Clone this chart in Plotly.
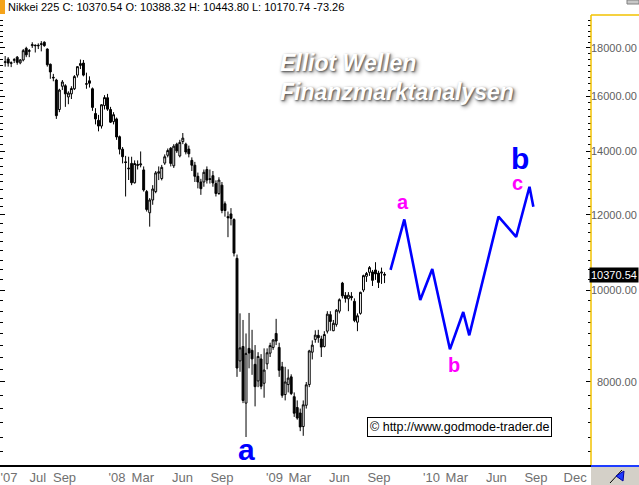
import math
import pandas as pd
import plotly.graph_objects as go

# ---------------- data ----------------
week_start = "2007-04-16"
n_weeks = 127
dates = pd.date_range(week_start, periods=n_weeks, freq="7D")

opens = [17380, 17520, 17340, 17470, 17600, 17360, 17480, 17980, 17850, 18100,
         18120, 18090, 18150, 18250, 17950, 17300, 16760, 16650, 15500, 16400,
         16420, 15980, 16100, 16300, 16850, 17250, 17350, 16480, 16620, 16300,
         15350, 15100, 14890, 15650, 15950, 15500, 15050, 15150, 14509, 14078,
         13650, 13420, 13600, 12975, 13560, 13550, 13386, 12700, 12064, 12444,
         12700, 13280, 13110, 13610, 13870, 14110, 13520, 14250, 13850, 14340,
         14250, 14080, 13700, 13540, 13180, 13000, 13000, 13400, 13080, 13200,
         12950, 12640, 12900, 12330, 11950, 12030, 11870, 10800, 8420, 8720,
         7600, 8680, 8640, 8350, 8020, 8460, 7975, 8360, 8580, 8700,
         9000, 8700, 8300, 7760, 7950, 8100, 7720, 7520, 7420, 7180,
         7560, 7950, 8600, 8870, 8960, 8880, 8720, 9050, 9420, 9060,
         9200, 9500, 10170, 9870, 9790, 9850, 9730, 9250, 9450, 10000,
         10340, 10440, 10450, 10500, 10420, 10420, 10388.32]
highs = [17650, 17600, 17420, 17560, 17650, 17520, 17950, 18050, 17950, 18250,
         18150, 18200, 18300, 18290, 17980, 17330, 16900, 16700, 16300, 16650,
         16480, 16200, 16400, 16850, 17200, 17500, 17480, 16950, 16800, 16350,
         15550, 15300, 15700, 16050, 16100, 15600, 15400, 15200, 14550, 14150,
         13850, 13822, 13822, 13700, 13700, 14000, 13500, 12750, 12500, 12900,
         13350, 13500, 13550, 13900, 14100, 14150, 14250, 14300, 14400, 14640,
         14300, 14200, 13800, 13650, 13300, 13100, 13400, 13500, 13400, 13350,
         13050, 13150, 13000, 12400, 12100, 12200, 11900, 10900, 9450, 9300,
         9000, 9460, 9080, 8750, 8600, 8560, 8680, 8680, 8800, 8880,
         9325, 8800, 8400, 8300, 8250, 8150, 7800, 7650, 7500, 7650,
         8000, 8650, 8850, 9070, 9080, 8950, 9050, 9500, 9500, 9300,
         9550, 9800, 10200, 9950, 9950, 9950, 9800, 9450, 9960, 10380,
         10450, 10600, 10500, 10700, 10480, 10560, 10443.80]
lows = [17200, 17200, 17180, 17350, 17280, 17300, 17420, 17600, 17600, 18000,
        17800, 17950, 17850, 18050, 17200, 16700, 16600, 15150, 15400, 16250,
        15600, 15700, 15900, 16250, 16750, 17100, 16800, 16300, 16350, 15450,
        14950, 14700, 14800, 15500, 15450, 15000, 14950, 14400, 13900, 13600,
        12550, 13062, 12900, 12950, 13400, 13470, 12700, 12100, 11664, 12300,
        12650, 13060, 13050, 13550, 13800, 13500, 13450, 13950, 13800, 14250,
        13900, 13800, 13350, 13000, 12800, 12600, 12850, 12950, 12950, 12850,
        12550, 12600, 12050, 11950, 11370, 11700, 10850, 8100, 8200, 7600,
        7000, 8270, 8140, 7540, 7900, 7860, 7700, 8250, 8500, 8650,
        8750, 8100, 7700, 7650, 7800, 7750, 7350, 7300, 7100, 7020,
        7500, 7900, 8450, 8800, 8800, 8500, 8700, 9000, 9060, 9050,
        9150, 9450, 9800, 9700, 9500, 9750, 9250, 9050, 9420, 9950,
        10200, 10350, 10100, 10250, 10050, 10150, 10170.74]
closes = [17400, 17350, 17360, 17490, 17380, 17480, 17880, 17700, 17880, 18140,
          18100, 18110, 18180, 18100, 17280, 16980, 16740, 15270, 16250, 16570,
          16100, 16130, 16310, 16790, 17200, 17330, 16850, 16500, 16520, 15580,
          15150, 14890, 15680, 15956, 15514, 15030, 15307, 14500, 14078, 13822,
          13629, 13440, 12975, 13596, 13540, 13580, 12750, 12160, 12444, 12780,
          13290, 13323, 13470, 13820, 14030, 13600, 14180, 14020, 14310, 14460,
          13980, 13920, 13540, 13180, 13000, 12790, 13310, 13060, 13100, 12970,
          12640, 13060, 12130, 12130, 11920, 11900, 10938, 8276, 8690, 7649,
          8576, 8583, 8462, 7910, 8512, 7917, 8235, 8588, 8739, 8859,
          8836, 8230, 7745, 8000, 8076, 7779, 7416, 7330, 7173, 7569,
          7945, 8626, 8749, 8964, 8907, 8707, 8977, 9432, 9265, 9225,
          9523, 9768, 9860, 9800, 9877, 9816, 9290, 9395, 9945, 10357,
          10412, 10560, 10238, 10400, 10187, 10444, 10370.54]

proj_dates = ["2009-09-28", "2009-10-30", "2009-12-06", "2010-01-03", "2010-02-13",
              "2010-03-16", "2010-03-30", "2010-06-06", "2010-07-17", "2010-08-17",
              "2010-08-26"]
proj_values = [10500, 11870, 9760, 10525, 8660, 9480, 8960, 11950, 11380, 12850, 12240]

x_tick_dates = ["2007-04-25", "2007-07-01", "2007-09-01", "2008-01-01", "2008-03-01",
                "2008-06-01", "2008-09-01", "2009-01-01", "2009-03-01", "2009-06-01",
                "2009-09-01", "2010-01-01", "2010-03-01", "2010-06-01", "2010-09-01",
                "2010-12-01"]
x_tick_text = ["'07", "Jul", "Sep", "'08", "Mar", "Jun", "Sep", "'09", "Mar", "Jun",
               "Sep", "'10", "Mar", "Jun", "Sep", "Dec"]

y_major = [8000, 10000, 12000, 14000, 16000, 18000]
y_minor = [v for v in range(6750, 19500, 250) if v % 2000 != 0]

last_price = 10370.54
header = "Nikkei 225 C: 10370.54 O: 10388.32 H: 10443.80 L: 10170.74 -73.26"

# ---------------- layout helpers ----------------
W, H = 639, 485
PL, PR, PT, PB = 0, 591, 15, 465   # plot area in pixels


def px(x):
    return (x - PL) / (PR - PL)


def py(y):
    return (PB - y) / (PB - PT)


FONT = "Liberation Sans, Arial, sans-serif"

fig = go.Figure()
fig.add_trace(go.Candlestick(
    x=dates, open=opens, high=highs, low=lows, close=closes,
    increasing=dict(line=dict(color="black", width=1), fillcolor="white"),
    decreasing=dict(line=dict(color="black", width=1), fillcolor="black"),
    whiskerwidth=0, showlegend=False, hoverinfo="skip",
))
fig.add_trace(go.Scatter(
    x=proj_dates, y=proj_values, mode="lines",
    line=dict(color="#0000FF", width=2.6), showlegend=False, hoverinfo="skip",
))

annotations = []
for v in y_major:
    annotations.append(dict(
        x=px(638.5), xref="paper", y=math.log10(v), yref="y",
        text=f"{v}.00", showarrow=False, xanchor="right", yanchor="middle",
        font=dict(family=FONT, size=11, color="#606060"),
    ))
annotations.append(dict(
    x=px(639), xref="paper", y=math.log10(last_price), yref="y",
    text=f"{last_price:.2f}", showarrow=False, xanchor="right", yanchor="middle",
    font=dict(family=FONT, size=11, color="white"), bgcolor="black", borderpad=1,
))
annotations.append(dict(
    x=px(6), xref="paper", y=py(7), yref="paper", text=header, showarrow=False,
    xanchor="left", yanchor="middle", font=dict(family=FONT, size=11, color="black"),
))
for txt, yy in [("Elliot Wellen", 63), ("Finanzmarktanalysen", 92)]:
    annotations.append(dict(
        x=px(278), xref="paper", y=py(yy), yref="paper", text=txt, showarrow=False,
        xanchor="left", yanchor="middle",
        font=dict(family=FONT, size=23, color="white", weight="bold", style="italic",
                  shadow="1px 1px 2px #555555, 2px 2px 4px #888888"),
    ))
annotations.append(dict(
    x=px(459), xref="paper", y=py(426.5), yref="paper",
    text="© http://www.godmode-trader.de", showarrow=False,
    xanchor="center", yanchor="middle", font=dict(family=FONT, size=12.5, color="black"),
    bordercolor="black", borderwidth=1, borderpad=2, bgcolor="white",
))
wave_labels = [
    ("a", 403, 202, "#FF00FF", 20),
    ("b", 454, 365, "#FF00FF", 20),
    ("c", 517, 183, "#FF00FF", 20),
    ("b", 520, 159, "#0000FF", 30),
    ("a", 246, 449, "#0000FF", 30),
]
for t, xx, yy, col, sz in wave_labels:
    annotations.append(dict(
        x=px(xx), xref="paper", y=py(yy), yref="paper", text=t, showarrow=False,
        xanchor="center", yanchor="middle",
        font=dict(family=FONT, size=sz, color=col, weight="bold"),
    ))

shapes = [
    # right axis line (gold) and top rule over label column
    dict(type="line", xref="paper", yref="paper", x0=1, x1=1, y0=0, y1=1,
         line=dict(color="#F2C200", width=1.5)),
    dict(type="line", xref="paper", yref="paper", x0=1, x1=px(639), y0=1, y1=1,
         line=dict(color="#F2C200", width=1.5)),
    # orange marker at header
    dict(type="rect", xref="paper", yref="paper", x0=px(0), x1=px(5), y0=py(14), y1=py(0),
         fillcolor="#F5A31A", line=dict(width=0)),
    # top right small grey bar
    dict(type="rect", xref="paper", yref="paper", x0=px(627), x1=px(639), y0=py(4), y1=py(0),
         fillcolor="#C8C8C8", line=dict(color="#808080", width=1)),
    # bottom-right grey corner box
    dict(type="rect", xref="paper", yref="paper", x0=1, x1=px(639), y0=py(485), y1=py(465),
         fillcolor="#D4D0C8", line=dict(width=0)),
    dict(type="line", xref="paper", yref="paper", x0=1, x1=px(639), y0=py(466), y1=py(466),
         line=dict(color="#1E3CFF", width=2)),
    dict(type="line", xref="paper", yref="paper", x0=px(610), x1=px(622), y0=py(483), y1=py(470),
         line=dict(color="black", width=1)),
    dict(type="path", xref="paper", yref="paper",
         path=f"M {px(616)} {py(476)} L {px(624)} {py(471)} L {px(623)} {py(481)} Z",
         fillcolor="#1E3CFF", line=dict(color="#0000A0", width=1)),
]

fig.update_layout(
    width=W, height=H,
    margin=dict(l=PL, r=W - PR, t=PT, b=H - PB),
    paper_bgcolor="white", plot_bgcolor="white",
    showlegend=False,
    boxgap=0.1,
    font=dict(family=FONT),
    xaxis=dict(
        type="date", range=["2007-04-04", "2011-01-07"],
        rangeslider=dict(visible=False),
        showgrid=False, zeroline=False,
        tickmode="array", tickvals=x_tick_dates, ticktext=x_tick_text,
        tickfont=dict(family=FONT, size=13, color="#707070"),
        ticks="", showline=True, linecolor="black", linewidth=1.5,
    ),
    yaxis=dict(
        type="log", range=[math.log10(6540), math.log10(19497)],
        side="right", showgrid=False, zeroline=False,
        tickmode="array", tickvals=y_major, showticklabels=False,
        ticks="inside", ticklen=5, tickcolor="black", tickwidth=1,
        mirror="ticks", showline=False,
        minor=dict(tickmode="array", tickvals=y_minor, ticks="inside", ticklen=3,
                   tickcolor="black", tickwidth=1),
    ),
    annotations=annotations,
    shapes=shapes,
)

fig.write_html(
    "out.html",
    config={"displayModeBar": False},
    post_script="document.body.style.margin='0';document.body.style.overflow='hidden';",
)
